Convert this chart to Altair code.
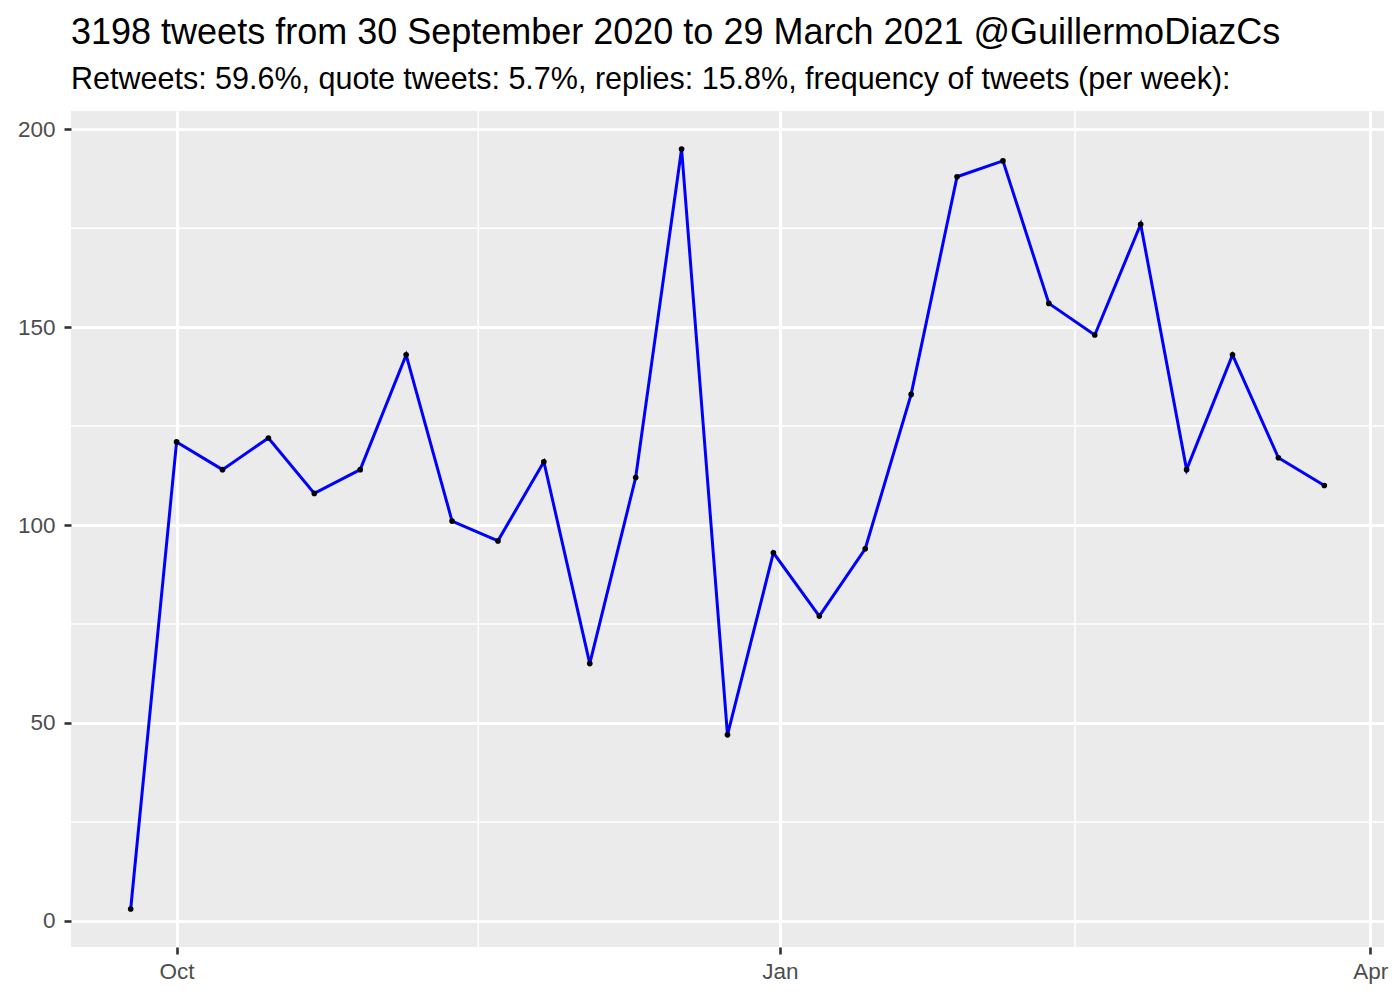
import altair as alt
import pandas as pd

# Weekly tweet counts (week start dates)
week_starts = [
    "2020-09-24", "2020-10-01", "2020-10-08", "2020-10-15", "2020-10-22",
    "2020-10-29", "2020-11-05", "2020-11-12", "2020-11-19", "2020-11-26",
    "2020-12-03", "2020-12-10", "2020-12-17", "2020-12-24", "2020-12-31",
    "2021-01-07", "2021-01-14", "2021-01-21", "2021-01-28", "2021-02-04",
    "2021-02-11", "2021-02-18", "2021-02-25", "2021-03-04", "2021-03-11",
    "2021-03-18", "2021-03-25",
]
tweet_counts = [
    3, 121, 114, 122, 108,
    114, 143, 101, 96, 116,
    65, 112, 195, 47, 93,
    77, 94, 133, 188, 192,
    156, 148, 176, 114, 143,
    117, 110,
]

# grid breaks
x_minor = ["2020-11-16", "2021-02-15"]
y_minor = [25, 75, 125, 175]
y_major = [0, 50, 100, 150, 200]

title_text = "3198 tweets from 30 September 2020 to 29 March 2021 @GuillermoDiazCs"
subtitle_text = "Retweets: 59.6%, quote tweets: 5.7%, replies: 15.8%, frequency of tweets (per week):"

FONT = "Liberation Sans"

df = pd.DataFrame({"week": week_starts, "tweets": tweet_counts})
df_xminor = pd.DataFrame({"week": x_minor})
df_yminor = pd.DataFrame({"tweets": y_minor})

x_scale = alt.Scale(
    type="utc",
    domain=[
        alt.DateTime(year=2020, month=9, date=14, hours=21, minutes=36, utc=True),
        alt.DateTime(year=2021, month=4, date=3, hours=2, minutes=24, utc=True),
    ],
)
y_scale = alt.Scale(domain=[-6.6, 204.6], nice=False, zero=False)

x_axis = alt.Axis(
    values=[
        alt.DateTime(year=2020, month=10, date=1, utc=True),
        alt.DateTime(year=2021, month=1, date=1, utc=True),
        alt.DateTime(year=2021, month=4, date=1, utc=True),
    ],
    labelExpr="utcFormat(datum.value, '%b')",
    grid=True, gridColor="white", gridWidth=3,
    domain=False,
    tickColor="#333333", tickSize=7, tickWidth=2.6,
    labelColor="#4D4D4D", labelFont=FONT, labelFontSize=22.5,
    labelPadding=6, labelFlush=False, labelOverlap=False,
    title=None,
)
y_axis = alt.Axis(
    values=y_major,
    grid=True, gridColor="white", gridWidth=3,
    domain=False,
    tickColor="#333333", tickSize=7, tickWidth=2.6,
    labelColor="#4D4D4D", labelFont=FONT, labelFontSize=22.5,
    labelPadding=9, labelFlush=False, labelOverlap=False,
    title=None,
)

X = alt.X("week:T", scale=x_scale, axis=x_axis)
Y = alt.Y("tweets:Q", scale=y_scale, axis=y_axis)

minor_x = alt.Chart(df_xminor).mark_rule(color="white", strokeWidth=1.5).encode(x=X)
minor_y = alt.Chart(df_yminor).mark_rule(color="white", strokeWidth=1.5).encode(y=Y)

line = alt.Chart(df).mark_line(color="#0000FF", strokeWidth=3).encode(x=X, y=Y)
points = alt.Chart(df).mark_circle(color="black", size=32, opacity=1).encode(x=X, y=Y)

chart = (
    alt.layer(minor_x, minor_y, line, points)
    .properties(
        width=1313,
        height=836,
        autosize=alt.AutoSizeParams(type="none"),
        padding={"left": 63, "top": 103, "right": 8, "bottom": 50},
        title=alt.TitleParams(
            text=title_text,
            subtitle=subtitle_text,
            anchor="start",
            frame="group",
            font=FONT, fontSize=36, fontWeight="normal", color="black",
            subtitleFont=FONT, subtitleFontSize=30.5, subtitleColor="black",
            subtitlePadding=13,
            offset=14,
        ),
    )
    .configure_view(fill="#EBEBEB", strokeWidth=0)
)

chart.save("out.html", embed_options={"renderer": "svg", "actions": False})
